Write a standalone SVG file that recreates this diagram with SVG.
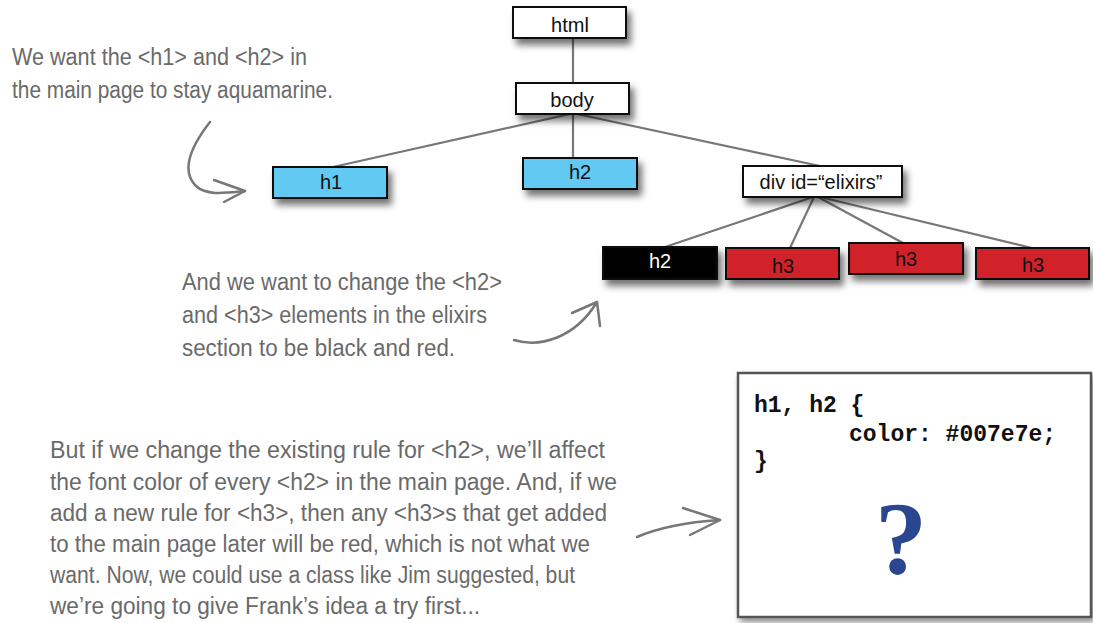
<svg xmlns="http://www.w3.org/2000/svg" width="1093" height="623" viewBox="0 0 1093 623">
<defs>
<filter id="sh" x="-20%" y="-30%" width="150%" height="190%">
<feDropShadow dx="4" dy="6" stdDeviation="3.5" flood-color="#000" flood-opacity="0.55"/>
</filter>
<filter id="sh2" x="-5%" y="-5%" width="115%" height="115%">
<feDropShadow dx="3" dy="4" stdDeviation="3" flood-color="#000" flood-opacity="0.45"/>
</filter>
<style>
.box{stroke:#111;stroke-width:2;filter:url(#sh)}
.w{fill:#fff}
.b{fill:#62c9f3}
.r{fill:#d1232b}
.k{fill:#000}
.lbl{font-family:"Liberation Sans","Noto Sans",sans-serif;font-size:20px;text-anchor:middle;fill:#111}
.edge{stroke:#777;stroke-width:2.2;fill:none}
.hand{font-family:"Liberation Sans",sans-serif;font-size:23px;fill:#6a6a6a}
.arr{stroke:#777;stroke-width:2.5;fill:none;stroke-linecap:round;stroke-linejoin:round}
.code{font-family:"Liberation Mono","Courier New",monospace;font-weight:bold;font-size:23px;fill:#111}
</style>
</defs>
<rect width="1093" height="623" fill="#fff"/>

<g id="connectors">
<line class="edge" x1="573" y1="38" x2="573" y2="83"/>
<line class="edge" x1="570" y1="114" x2="333" y2="167"/>
<line class="edge" x1="573" y1="114" x2="573" y2="158"/>
<line class="edge" x1="577" y1="114" x2="820" y2="166"/>
<line class="edge" x1="813" y1="197" x2="665" y2="247"/>
<line class="edge" x1="814" y1="197" x2="790" y2="248"/>
<line class="edge" x1="818" y1="197" x2="903" y2="243"/>
<line class="edge" x1="820" y1="197" x2="1032" y2="248"/>
</g>

<g id="node-html"><rect class="box w" x="513" y="7" width="113" height="31"/><text class="lbl" x="570" y="32">html</text></g>
<g id="node-body"><rect class="box w" x="516" y="83" width="113" height="31"/><text class="lbl" x="572" y="107">body</text></g>
<g id="node-h1"><rect class="box b" x="273" y="167" width="114" height="31"/><text class="lbl" x="331" y="189">h1</text></g>
<g id="node-h2"><rect class="box b" x="523" y="158" width="114" height="31"/><text class="lbl" x="580" y="179">h2</text></g>
<g id="node-div"><rect class="box w" x="743" y="166" width="159" height="31"/><text class="lbl" x="821" y="189">div id=“elixirs”</text></g>
<g id="node-h2-black"><rect class="box k" x="603" y="247" width="114" height="32"/><text class="lbl" x="660" y="268" style="fill:#fff">h2</text></g>
<g id="node-h3-a"><rect class="box r" x="726" y="248" width="113" height="31"/><text class="lbl" x="783" y="273">h3</text></g>
<g id="node-h3-b"><rect class="box r" x="849" y="243" width="114" height="31"/><text class="lbl" x="906" y="266">h3</text></g>
<g id="node-h3-c"><rect class="box r" x="976" y="248" width="113" height="31"/><text class="lbl" x="1033" y="272">h3</text></g>

<g id="note-aquamarine">
<text class="hand" x="12" y="65" textLength="295" lengthAdjust="spacingAndGlyphs">We want the &lt;h1&gt; and &lt;h2&gt; in</text>
<text class="hand" x="12" y="98" textLength="321" lengthAdjust="spacingAndGlyphs">the main page to stay aquamarine.</text>
<path class="arr" d="M210 122 C192 145 180 170 196 186 C207 196 225 193 245 191"/>
<path class="arr" d="M214 180 L245 191 L224 202"/>
</g>

<g id="note-elixirs">
<text class="hand" x="182" y="290" textLength="320" lengthAdjust="spacingAndGlyphs">And we want to change the &lt;h2&gt;</text>
<text class="hand" x="182" y="323" textLength="305" lengthAdjust="spacingAndGlyphs">and &lt;h3&gt; elements in the elixirs</text>
<text class="hand" x="182" y="356" textLength="273" lengthAdjust="spacingAndGlyphs">section to be black and red.</text>
<path class="arr" d="M514 340 C540 348 575 338 597 302"/>
<path class="arr" d="M572 313 L597 302 L600 326"/>
</g>

<g id="note-rule">
<text class="hand" x="50" y="458" textLength="555" lengthAdjust="spacingAndGlyphs">But if we change the existing rule for &lt;h2&gt;, we’ll affect</text>
<text class="hand" x="50" y="490" textLength="567" lengthAdjust="spacingAndGlyphs">the font color of every &lt;h2&gt; in the main page. And, if we</text>
<text class="hand" x="50" y="521" textLength="557" lengthAdjust="spacingAndGlyphs">add a new rule for &lt;h3&gt;, then any &lt;h3&gt;s that get added</text>
<text class="hand" x="50" y="552" textLength="540" lengthAdjust="spacingAndGlyphs">to the main page later will be red, which is not what we</text>
<text class="hand" x="50" y="583" textLength="525" lengthAdjust="spacingAndGlyphs">want. Now, we could use a class like Jim suggested, but</text>
<text class="hand" x="50" y="614" textLength="430" lengthAdjust="spacingAndGlyphs">we’re going to give Frank’s idea a try first...</text>
<path class="arr" d="M637 537 C660 527 690 522 720 520"/>
<path class="arr" d="M683 508 L720 520 L690 535"/>
</g>

<g id="code-box">
<rect x="738" y="373" width="353" height="244" fill="#fff" stroke="#555" stroke-width="2.5" filter="url(#sh2)"/>
<text class="code" x="754" y="412">h1, h2 {</text>
<text class="code" x="849" y="441">color: #007e7e;</text>
<text class="code" x="754" y="468">}</text>
<text x="901" y="574" font-family="Liberation Serif, serif" font-weight="bold" font-size="104" fill="#2a4690" text-anchor="middle">?</text>
</g>
</svg>
